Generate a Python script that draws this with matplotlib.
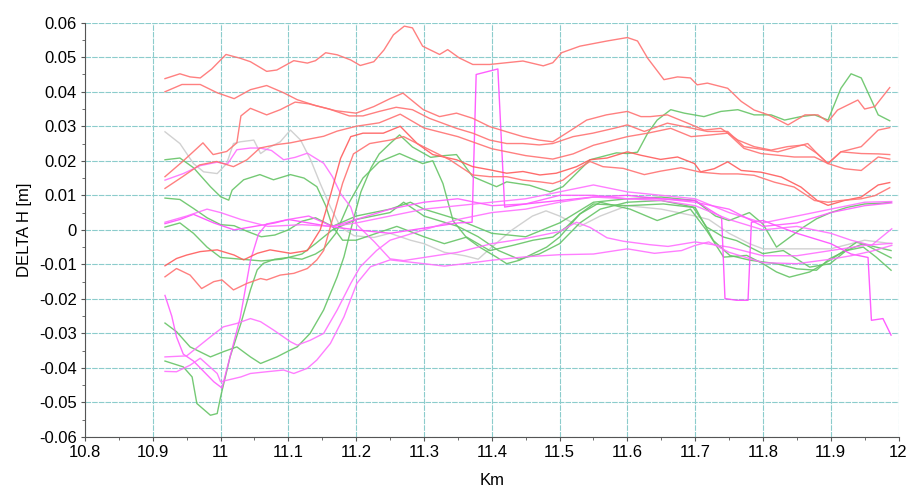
import numpy as np
import matplotlib
matplotlib.use("Agg")
from matplotlib import pyplot as plt

plt.rcParams['font.family'] = ['Liberation Sans', 'DejaVu Sans']

# ---- data: (km, delta h) ----
red_1 = [(10.918, 0.0438), (10.94, 0.0452), (10.955, 0.0443), (10.97, 0.044), (10.987, 0.0466), (11.008, 0.0508),
         (11.029, 0.0497), (11.044, 0.0487), (11.068, 0.0459), (11.083, 0.0463), (11.108, 0.049), (11.128, 0.0483),
         (11.14, 0.049), (11.155, 0.0513), (11.172, 0.0507), (11.192, 0.0492), (11.206, 0.0476), (11.226, 0.0487),
         (11.241, 0.0521), (11.255, 0.0565), (11.271, 0.059), (11.283, 0.0585), (11.298, 0.0532), (11.323, 0.0508),
         (11.335, 0.0522), (11.352, 0.0498), (11.372, 0.0479), (11.397, 0.0479), (11.446, 0.0489), (11.476, 0.0475),
         (11.49, 0.0484), (11.503, 0.0513), (11.53, 0.0532), (11.57, 0.0547), (11.6, 0.0557), (11.615, 0.0547),
         (11.63, 0.0497), (11.654, 0.0435), (11.674, 0.0443), (11.693, 0.044), (11.703, 0.042), (11.718, 0.0425),
         (11.748, 0.041), (11.768, 0.0372), (11.787, 0.0347), (11.808, 0.0333), (11.837, 0.0304), (11.862, 0.0333),
         (11.881, 0.0333), (11.896, 0.0313), (11.91, 0.0347), (11.94, 0.0376), (11.95, 0.035), (11.965, 0.0357),
         (11.987, 0.0412)]
red_2 = [(10.918, 0.040), (10.943, 0.0421), (10.97, 0.0421), (10.995, 0.0397), (11.02, 0.038), (11.044, 0.0406),
         (11.068, 0.0418), (11.093, 0.0397), (11.113, 0.0377), (11.14, 0.036), (11.17, 0.0345), (11.2, 0.0338),
         (11.226, 0.0357), (11.25, 0.038), (11.269, 0.0396), (11.299, 0.0348), (11.323, 0.0328), (11.348, 0.0338),
         (11.372, 0.0323), (11.397, 0.0299), (11.422, 0.0284), (11.446, 0.027), (11.47, 0.026), (11.49, 0.0255),
         (11.51, 0.028), (11.54, 0.0318), (11.569, 0.0333), (11.6, 0.0343), (11.62, 0.0328), (11.634, 0.0328),
         (11.659, 0.0333), (11.689, 0.0309), (11.713, 0.0289), (11.738, 0.0294), (11.763, 0.026), (11.787, 0.0241),
         (11.812, 0.0231), (11.836, 0.0241), (11.861, 0.0246), (11.88, 0.0221), (11.896, 0.0192), (11.915, 0.0226),
         (11.945, 0.0241), (11.97, 0.0289), (11.987, 0.0296)]
red_3 = [(10.918, 0.0154), (10.944, 0.0198), (10.974, 0.0252), (10.989, 0.0218), (11.009, 0.0227), (11.024, 0.0252),
         (11.03, 0.033), (11.044, 0.0352), (11.068, 0.0333), (11.088, 0.0348), (11.11, 0.037), (11.13, 0.0365),
         (11.16, 0.035), (11.19, 0.033), (11.21, 0.033), (11.234, 0.0343), (11.259, 0.0355), (11.283, 0.0348),
         (11.308, 0.0323), (11.348, 0.0294), (11.372, 0.028), (11.397, 0.026), (11.422, 0.025), (11.446, 0.025),
         (11.47, 0.0246), (11.49, 0.025), (11.52, 0.027), (11.549, 0.028), (11.58, 0.0294), (11.6, 0.0304),
         (11.625, 0.0285), (11.659, 0.0309), (11.684, 0.0299), (11.718, 0.0285), (11.748, 0.0285), (11.772, 0.0241),
         (11.822, 0.0226), (11.866, 0.025), (11.88, 0.0221), (11.896, 0.0192), (11.915, 0.0226), (11.945, 0.0221),
         (11.97, 0.022), (11.987, 0.0218)]
red_4 = [(10.918, 0.012), (10.944, 0.0154), (10.969, 0.0188), (10.994, 0.0198), (11.019, 0.0183), (11.039, 0.0203),
         (11.058, 0.0237), (11.083, 0.0247), (11.103, 0.0252), (11.128, 0.0262), (11.152, 0.0271), (11.172, 0.0286),
         (11.2, 0.030), (11.234, 0.031), (11.265, 0.0335), (11.3, 0.0295), (11.35, 0.027), (11.4, 0.0235),
         (11.45, 0.0215), (11.49, 0.0205), (11.52, 0.022), (11.55, 0.0245), (11.6, 0.027), (11.63, 0.028),
         (11.664, 0.0294), (11.694, 0.027), (11.723, 0.0275), (11.748, 0.028), (11.772, 0.0236), (11.797, 0.0221),
         (11.822, 0.0216), (11.846, 0.0211), (11.876, 0.0211), (11.896, 0.0192), (11.92, 0.0177), (11.945, 0.0172),
         (11.97, 0.0211), (11.987, 0.0205)]
red_5 = [(10.918, -0.0104), (10.935, -0.0083), (10.95, -0.0073), (10.97, -0.0063), (10.995, -0.0058),
         (11.02, -0.0073), (11.034, -0.0087), (11.054, -0.0068), (11.073, -0.0058), (11.103, -0.0068),
         (11.128, -0.006), (11.147, 0.0), (11.162, 0.01), (11.177, 0.0207), (11.192, 0.027), (11.21, 0.028),
         (11.24, 0.028), (11.265, 0.030), (11.29, 0.025), (11.313, 0.0218), (11.348, 0.0203), (11.372, 0.0183),
         (11.397, 0.0174), (11.422, 0.0164), (11.446, 0.0169), (11.471, 0.0159), (11.495, 0.0164), (11.525, 0.0183),
         (11.545, 0.0203), (11.57, 0.0208), (11.6, 0.0226), (11.62, 0.0216), (11.649, 0.0204), (11.674, 0.0211),
         (11.699, 0.0192), (11.708, 0.0168), (11.728, 0.0177), (11.748, 0.0197), (11.768, 0.0172), (11.797, 0.0167),
         (11.827, 0.0153), (11.856, 0.0124), (11.88, 0.0085), (11.896, 0.0071), (11.92, 0.0085), (11.945, 0.0095),
         (11.97, 0.013), (11.987, 0.0137)]
red_6 = [(10.918, -0.0136), (10.935, -0.0112), (10.955, -0.0131), (10.972, -0.017), (10.99, -0.015),
         (11.002, -0.0145), (11.019, -0.0174), (11.039, -0.0155), (11.059, -0.0141), (11.068, -0.0145),
         (11.088, -0.0131), (11.108, -0.0126), (11.128, -0.0112), (11.142, -0.0087), (11.152, -0.006),
         (11.165, 0.003), (11.18, 0.0135), (11.196, 0.022), (11.22, 0.025), (11.25, 0.026), (11.27, 0.027),
         (11.3, 0.024), (11.338, 0.0203), (11.372, 0.0159), (11.397, 0.0154), (11.422, 0.0154), (11.446, 0.0144),
         (11.471, 0.0139), (11.49, 0.0134), (11.505, 0.0144), (11.525, 0.0174), (11.545, 0.0198), (11.564, 0.0183),
         (11.594, 0.0178), (11.625, 0.016), (11.649, 0.017), (11.679, 0.018), (11.708, 0.0167), (11.738, 0.0162),
         (11.763, 0.0162), (11.787, 0.0158), (11.817, 0.0138), (11.846, 0.0124), (11.876, 0.0085), (11.896, 0.008),
         (11.915, 0.0085), (11.945, 0.009), (11.965, 0.0099), (11.987, 0.0122)]

green_1 = [(10.918, 0.0203), (10.94, 0.0208), (10.96, 0.018), (10.985, 0.0125), (11.0, 0.0096), (11.012, 0.0086),
           (11.017, 0.0115), (11.034, 0.0145), (11.058, 0.016), (11.078, 0.0145), (11.103, 0.016), (11.123, 0.015),
           (11.142, 0.0125), (11.155, 0.007), (11.165, 0.001), (11.18, -0.003), (11.2, -0.003), (11.23, -0.001),
           (11.26, 0.001), (11.3, -0.002), (11.33, -0.004), (11.363, -0.0021), (11.397, -0.006), (11.431, -0.0045),
           (11.461, -0.003), (11.49, -0.0021), (11.51, 0.0008), (11.53, 0.0046), (11.56, 0.008), (11.604, 0.006),
           (11.644, 0.0027), (11.693, 0.006), (11.717, -0.0002), (11.742, -0.0079), (11.776, -0.0074), (11.8, -0.0098),
           (11.82, -0.0122), (11.839, -0.0137), (11.869, -0.0122), (11.899, -0.0088), (11.938, -0.0036),
           (11.967, -0.005), (11.989, -0.006)]
green_2 = [(10.918, 0.0092), (10.94, 0.0088), (10.96, 0.0062), (10.98, 0.0035), (11.0, 0.0015), (11.02, 0.0012),
           (11.04, -0.0005), (11.06, -0.002), (11.08, -0.0015), (11.1, 0.0), (11.12, 0.0025), (11.14, 0.0035),
           (11.165, 0.001), (11.2, 0.004), (11.25, 0.006), (11.28, 0.008), (11.3, 0.006), (11.35, 0.003),
           (11.4, -0.001), (11.45, -0.002), (11.5, 0.002), (11.55, 0.008), (11.6, 0.009), (11.65, 0.0095),
           (11.7, 0.0085), (11.73, 0.004), (11.75, 0.0027), (11.767, 0.004), (11.78, 0.005), (11.8, 0.0017),
           (11.82, -0.005), (11.84, -0.0021), (11.86, 0.0008), (11.879, 0.0032), (11.9, 0.005), (11.924, 0.0065),
           (11.95, 0.0075), (11.973, 0.0077), (11.989, 0.008)]
green_3 = [(10.918, 0.0008), (10.94, 0.002), (10.96, -0.001), (10.98, -0.005), (11.0, -0.008), (11.03, -0.0085),
           (11.06, -0.009), (11.09, -0.0085), (11.12, -0.007), (11.14, -0.004), (11.165, 0.0), (11.2, 0.003),
           (11.25, 0.005), (11.27, 0.008), (11.3, 0.004), (11.35, 0.001), (11.38, -0.002), (11.41, -0.006),
           (11.44, -0.0085), (11.47, -0.007), (11.5, -0.004), (11.53, 0.002), (11.56, 0.006), (11.6, 0.008),
           (11.65, 0.0085), (11.7, 0.0065), (11.727, -0.0031), (11.751, -0.0074), (11.781, -0.0088), (11.82, -0.0098),
           (11.85, -0.0113), (11.879, -0.0117), (11.898, -0.0084), (11.923, -0.006), (11.948, -0.004),
           (11.989, -0.0081)]
green_4 = [(10.918, -0.027), (10.935, -0.0295), (10.955, -0.0339), (10.985, -0.0368), (11.004, -0.0353),
           (11.024, -0.0339), (11.044, -0.0368), (11.059, -0.0387), (11.083, -0.0368), (11.103, -0.0348),
           (11.113, -0.0339), (11.132, -0.030), (11.152, -0.0232), (11.172, -0.0136), (11.182, -0.0078),
           (11.192, 0.0), (11.2, 0.006), (11.207, 0.011), (11.222, 0.018), (11.234, 0.022), (11.25, 0.025),
           (11.264, 0.0275), (11.283, 0.024), (11.31, 0.021), (11.33, 0.0215), (11.348, 0.0218), (11.372, 0.0154),
           (11.407, 0.0125), (11.422, 0.0139), (11.456, 0.0129), (11.486, 0.011), (11.505, 0.0125), (11.525, 0.0164),
           (11.545, 0.0203), (11.584, 0.0223), (11.6, 0.0221), (11.615, 0.0225), (11.63, 0.028), (11.644, 0.0318),
           (11.664, 0.0348), (11.684, 0.0338), (11.713, 0.0328), (11.738, 0.0343), (11.763, 0.0348), (11.787, 0.0333),
           (11.812, 0.0333), (11.832, 0.0318), (11.856, 0.0328), (11.876, 0.0333), (11.896, 0.0318), (11.915, 0.041),
           (11.93, 0.0452), (11.945, 0.044), (11.97, 0.0333), (11.987, 0.0316)]
green_5 = [(10.918, -0.038), (10.945, -0.0397), (10.958, -0.0426), (10.965, -0.0503), (10.985, -0.0537),
           (10.995, -0.0532), (11.0, -0.0484), (11.014, -0.0368), (11.03, -0.0271), (11.044, -0.0174),
           (11.054, -0.0116), (11.063, -0.0097), (11.08, -0.0085), (11.1, -0.008), (11.12, -0.0085), (11.14, -0.007),
           (11.152, -0.0055), (11.17, -0.001), (11.19, 0.008), (11.21, 0.015), (11.234, 0.0197), (11.264, 0.0221),
           (11.298, 0.0192), (11.313, 0.020), (11.328, 0.0134), (11.343, 0.0026), (11.363, -0.0023), (11.382, -0.005),
           (11.407, -0.0079), (11.422, -0.0098), (11.441, -0.0088), (11.481, -0.005), (11.5, -0.0021), (11.53, 0.0046),
           (11.55, 0.0075), (11.6, 0.007), (11.653, 0.0075), (11.697, 0.0065), (11.717, 0.0008), (11.742, -0.0021),
           (11.761, -0.0031), (11.8, -0.0069), (11.83, -0.006), (11.869, -0.0108), (11.899, -0.0098),
           (11.923, -0.006), (11.948, -0.005), (11.967, -0.0079), (11.989, -0.0117)]

magenta_1 = [(10.918, 0.0144), (10.945, 0.0163), (10.97, 0.0186), (10.995, 0.0196), (11.01, 0.019), (11.024, 0.0232),
             (11.044, 0.0237), (11.058, 0.0237), (11.075, 0.023), (11.093, 0.0203), (11.11, 0.021), (11.128, 0.0222),
             (11.152, 0.0193), (11.165, 0.0154), (11.177, 0.0105), (11.192, 0.0066), (11.2, 0.0017),
             (11.227, -0.0035), (11.25, -0.0084), (11.27, -0.0089), (11.3, -0.008), (11.35, -0.0065), (11.4, -0.004),
             (11.45, -0.0025), (11.5, -0.0005), (11.525, 0.0022), (11.545, 0.0007), (11.57, -0.0023),
             (11.594, -0.0033), (11.633, -0.0043), (11.66, -0.0048), (11.7, -0.0035), (11.75, -0.005), (11.8, -0.0075),
             (11.85, -0.0075), (11.9, -0.006), (11.95, -0.0045), (11.99, -0.0039)]
magenta_2 = [(10.918, 0.0018), (10.94, 0.003), (10.96, 0.0045), (10.99, 0.002), (11.02, 0.0), (11.05, 0.001),
             (11.08, 0.002), (11.1, 0.003), (11.13, 0.002), (11.16, 0.001), (11.2, 0.0), (11.25, -0.001),
             (11.3, 0.0005), (11.35, 0.002), (11.371, 0.0022), (11.377, 0.045), (11.409, 0.0466), (11.419, 0.0066),
             (11.45, 0.0075), (11.5, 0.0085), (11.55, 0.0095), (11.6, 0.010), (11.65, 0.009), (11.7, 0.0085),
             (11.72, 0.006), (11.739, 0.0037), (11.744, -0.0199), (11.761, -0.0204), (11.778, -0.0204),
             (11.783, 0.0022), (11.8, 0.0027), (11.85, -0.001), (11.9, -0.004), (11.93, -0.007), (11.955, -0.008),
             (11.96, -0.0262), (11.977, -0.0257), (11.989, -0.0305)]
magenta_3 = [(10.918, 0.0022), (10.95, 0.004), (10.98, 0.006), (11.0, 0.005), (11.03, 0.003), (11.07, 0.001),
             (11.12, 0.0015), (11.165, 0.001), (11.2, 0.002), (11.25, 0.004), (11.3, 0.006), (11.35, 0.007),
             (11.4, 0.008), (11.45, 0.009), (11.5, 0.011), (11.55, 0.013), (11.6, 0.011), (11.65, 0.010),
             (11.7, 0.009), (11.75, 0.005), (11.8, 0.002), (11.85, 0.004), (11.9, 0.006), (11.95, 0.008),
             (11.99, 0.0082)]
magenta_4 = [(10.918, -0.019), (10.928, -0.025), (10.935, -0.031), (10.945, -0.036), (10.96, -0.038),
             (10.975, -0.041), (10.99, -0.044), (11.002, -0.0458), (11.015, -0.036), (11.029, -0.0254),
             (11.044, -0.0089), (11.056, -0.0012), (11.068, 0.0017), (11.1, 0.003), (11.13, 0.004), (11.165, 0.001),
             (11.2, 0.003), (11.25, 0.006), (11.3, 0.008), (11.35, 0.009), (11.4, 0.007), (11.45, 0.0075),
             (11.5, 0.010), (11.55, 0.010), (11.6, 0.009), (11.65, 0.009), (11.7, 0.008), (11.75, 0.006),
             (11.8, 0.001), (11.85, 0.002), (11.9, 0.005), (11.95, 0.007), (11.99, 0.0078)]
magenta_5 = [(10.918, -0.0368), (10.95, -0.0365), (10.985, -0.031), (11.004, -0.0281), (11.024, -0.0271),
             (11.044, -0.0257), (11.059, -0.0266), (11.078, -0.029), (11.103, -0.0324), (11.113, -0.0334),
             (11.132, -0.032), (11.152, -0.030), (11.172, -0.0232), (11.192, -0.0155), (11.206, -0.0107),
             (11.23, -0.006), (11.25, -0.003), (11.3, 0.0), (11.35, 0.003), (11.4, 0.005), (11.45, 0.006),
             (11.5, 0.008), (11.55, 0.0095), (11.6, 0.009), (11.65, 0.0085), (11.7, 0.007), (11.75, 0.003),
             (11.8, 0.0), (11.85, 0.001), (11.9, -0.001), (11.93, -0.003), (11.96, -0.0045), (11.99, 0.0003)]
magenta_6 = [(10.918, -0.041), (10.935, -0.0411), (10.955, -0.0392), (10.97, -0.0372), (10.995, -0.0416),
             (11.0, -0.044), (11.03, -0.0426), (11.044, -0.0416), (11.068, -0.0411), (11.093, -0.0406),
             (11.108, -0.0416), (11.128, -0.0401), (11.142, -0.0377), (11.162, -0.0329), (11.182, -0.0252),
             (11.201, -0.0155), (11.221, -0.0107), (11.25, -0.0087), (11.3, -0.0098), (11.33, -0.0105),
             (11.36, -0.0098), (11.4, -0.0088), (11.45, -0.0078), (11.5, -0.0072), (11.55, -0.007), (11.6, -0.0055),
             (11.64, -0.0068), (11.68, -0.006), (11.7, -0.0045), (11.72, -0.0035), (11.75, -0.0065), (11.8, -0.0095),
             (11.85, -0.0098), (11.9, -0.0085), (11.93, -0.0075), (11.96, -0.0062), (11.99, -0.0045)]

grey_1 = [(10.918, 0.0284), (10.94, 0.025), (10.96, 0.0192), (10.975, 0.0168), (10.995, 0.0163), (11.009, 0.0192),
          (11.019, 0.025), (11.029, 0.0255), (11.049, 0.026), (11.059, 0.0221), (11.073, 0.024), (11.088, 0.0255),
          (11.103, 0.0289), (11.118, 0.026), (11.133, 0.0202), (11.147, 0.0134), (11.162, 0.0066), (11.177, 0.0008),
          (11.197, -0.0017), (11.226, -0.0022), (11.25, -0.001), (11.28, -0.003), (11.3, -0.004), (11.33, -0.0065),
          (11.36, -0.0075), (11.38, -0.0085), (11.4, -0.005), (11.43, 0.0), (11.46, 0.004), (11.48, 0.0055),
          (11.5, 0.004), (11.53, 0.001), (11.56, 0.004), (11.6, 0.007), (11.65, 0.006), (11.7, 0.004),
          (11.72, 0.003), (11.75, -0.001), (11.78, -0.004), (11.8, -0.0055), (11.85, -0.0055), (11.9, -0.0055),
          (11.95, -0.003), (11.99, -0.004)]

x_ticks = [10.8, 10.9, 11.0, 11.1, 11.2, 11.3, 11.4, 11.5, 11.6, 11.7, 11.8, 11.9, 12.0]
x_labels = ['10.8', '10.9', '11', '11.1', '11.2', '11.3', '11.4', '11.5', '11.6', '11.7', '11.8', '11.9', '12']
y_ticks = [-0.06, -0.05, -0.04, -0.03, -0.02, -0.01, 0, 0.01, 0.02, 0.03, 0.04, 0.05, 0.06]
y_labels = ['-0.06', '-0.05', '-0.04', '-0.03', '-0.02', '-0.01', '0',
            '0.01', '0.02', '0.03', '0.04', '0.05', '0.06']

series = [
    (grey_1, '#cccccc'),
    (green_1, '#66c466'), (green_2, '#66c466'), (green_3, '#66c466'), (green_4, '#66c466'), (green_5, '#66c466'),
    (magenta_1, '#ff70ff'), (magenta_2, '#ff4cff'), (magenta_3, '#ff70ff'), (magenta_4, '#ff5cff'),
    (magenta_5, '#ff70ff'), (magenta_6, '#ff70ff'),
    (red_1, '#ff7272'), (red_2, '#ff7272'), (red_3, '#ff7272'), (red_4, '#ff7272'), (red_5, '#ff5c5c'),
    (red_6, '#ff7272'),
]

fig = plt.figure(figsize=(9.1, 4.88), dpi=100)
ax = fig.add_axes([0.0934, 0.1045, 0.894, 0.849])

for pts, col in series:
    xs, ys = zip(*pts)
    ax.plot(xs, ys, color=col, lw=1.0, alpha=0.9)

ax.set_xlim(10.8, 12.0)
ax.set_ylim(-0.06, 0.06)
ax.set_xticks(x_ticks)
ax.set_xticklabels(x_labels)
ax.set_yticks(y_ticks)
ax.set_yticklabels(y_labels)
ax.set_xticks(np.arange(10.85, 12.0, 0.1), minor=True)
ax.set_yticks(np.arange(-0.055, 0.06, 0.01), minor=True)
ax.grid(True, which='major', color='#8ccccc', lw=0.8, ls=(0, (5, 1)))
ax.set_axisbelow(True)
for s in ['top', 'right']:
    ax.spines[s].set_visible(False)
ax.spines['left'].set_color('#555555')
ax.spines['bottom'].set_color('#555555')
ax.tick_params(axis='both', which='major', labelsize=12, length=3, color='#555555', pad=3)
ax.tick_params(axis='both', which='minor', length=2, color='#555555')
ax.set_xlabel('Km', fontsize=12, labelpad=9)
ax.set_ylabel('DELTA H [m]', fontsize=12, labelpad=5)

fig.savefig('out.png', dpi=100)
